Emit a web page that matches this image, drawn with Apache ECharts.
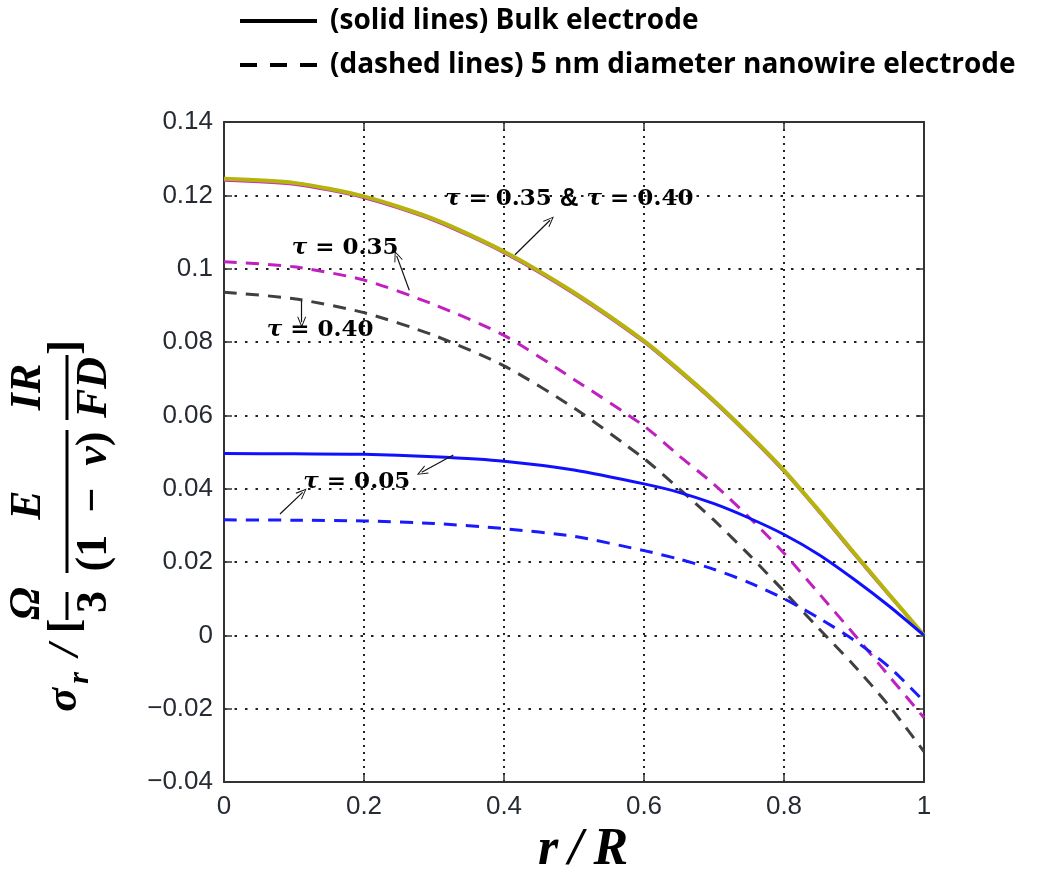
<!DOCTYPE html>
<html>
<head>
<meta charset="utf-8">
<script src="https://cdn.jsdelivr.net/npm/echarts@6/dist/echarts.min.js"></script>
<style>
  html, body { margin: 0; padding: 0; background: #fff; }
  #chart { width: 1054px; height: 886px; }
</style>
</head>
<body>
<div id="chart"></div>
<script>
// ---------------- data ----------------
const rVals = [0, 0.1, 0.2, 0.3, 0.4, 0.5, 0.6, 0.65, 0.7, 0.75, 0.8, 0.85, 0.9, 0.95, 1];
// solid lines: bulk electrode
const bulkTau35and40 = [0.1245, 0.1234, 0.1197, 0.1135, 0.1047, 0.0935, 0.0803, 0.0724, 0.0640, 0.0548, 0.0450, 0.0340, 0.0225, 0.0112, 0.0];
const bulkTau35Under = [0.1240, 0.1229, 0.1192, 0.1130, 0.1042, 0.0930, 0.0798, 0.0719, 0.0635, 0.0543, 0.0445, 0.0335, 0.0220, 0.0108, 0.0];
const bulkTau05 = [0.0496, 0.0495, 0.0494, 0.0487, 0.0475, 0.0451, 0.0413, 0.0390, 0.0359, 0.0320, 0.0275, 0.0220, 0.0153, 0.0080, 0.0];
// dashed lines: 5 nm nanowire electrode
const nanoTau35 = [0.1019, 0.1005, 0.0969, 0.0902, 0.0818, 0.0698, 0.0571, 0.0490, 0.0412, 0.0322, 0.0224, 0.0114, 0.0003, -0.0111, -0.0225];
const nanoTau40 = [0.0936, 0.0918, 0.0880, 0.0818, 0.0735, 0.0620, 0.0482, 0.0400, 0.0314, 0.0220, 0.0120, 0.0018, -0.0082, -0.0192, -0.0317];
const nanoTau05 = [0.0315, 0.0314, 0.0312, 0.0305, 0.0291, 0.0270, 0.0231, 0.0208, 0.0180, 0.0144, 0.0100, 0.0047, -0.0013, -0.0086, -0.0180];

const legendNames = ['(solid lines) Bulk electrode', '(dashed lines) 5 nm diameter nanowire electrode'];
const xTickLabels = ['0', '0.2', '0.4', '0.6', '0.8', '1'];
const yTickLabels = ['\u22120.04', '\u22120.02', '0', '0.02', '0.04', '0.06', '0.08', '0.1', '0.12', '0.14'];
const xAxisTitle = 'r\u2009/\u2009R';

const annotationLabels = [
  '{i|\u03C4}{u| = 0.35 }{a|&}{u| }{i|\u03C4}{u| = 0.40}',
  '{i|\u03C4}{u| = 0.35}',
  '{i|\u03C4}{u| = 0.40}',
  '{i|\u03C4}{u| = 0.05}'
];
const annotationAnchors = [[0.3157, 0.1191], [0.0967, 0.1057], [0.061, 0.0833], [0.1133, 0.0417]];
const arrowSegments = [
  [[0.4157, 0.1038], [0.4657, 0.1132]],
  [[0.2647, 0.0941], [0.2467, 0.1035]],
  [[0.111, 0.0913], [0.111, 0.0854]],
  [[0.3276, 0.0492], [0.2824, 0.0445]],
  [[0.0800, 0.0331], [0.1124, 0.0390]]
];

// ---------------- helpers ----------------
const pairs = ys => rVals.map((x, i) => [x, ys[i]]);
const X_MIN = 0, X_MAX = 1, X_INT = 0.2;
const Y_MIN = -0.04, Y_MAX = 0.14, Y_INT = 0.02;

const chart = echarts.init(document.getElementById('chart'), null, { renderer: 'canvas' });

const dashStyle = [13, 9];
function lineSeries(name, ys, color, width, type, z) {
  return {
    name: name, type: 'line', data: pairs(ys), symbol: 'none', smooth: 0.25,
    lineStyle: { color: color, width: width, type: type, cap: 'butt' },
    itemStyle: { color: color },
    z: z, silent: true, animation: false
  };
}

const chevron = 'path://M0,12 L6,0 L12,12 L10.6,12 L6,2.6 L1.4,12 Z';

const labelRich = {
  i: { fontFamily: 'DejaVu Serif', fontStyle: 'italic', fontWeight: 'bold', fontSize: 23, color: '#000' },
  u: { fontFamily: 'DejaVu Serif', fontWeight: 'bold', fontSize: 23, color: '#000' },
  a: { fontFamily: 'Liberation Sans', fontWeight: 'bold', fontSize: 26, color: '#000' }
};

const series = [
  lineSeries('bulkUnder', bulkTau35Under, '#c82bc8', 2, 'solid', 2),
  lineSeries('bulk035', bulkTau35and40, '#b4b40c', 4, 'solid', 3),
  lineSeries('nano035', nanoTau35, '#c020c0', 3, dashStyle, 3),
  lineSeries('nano040', nanoTau40, '#404040', 3, dashStyle, 3),
  lineSeries('nano005', nanoTau05, '#1a1aff', 3, dashStyle, 3),
  Object.assign(lineSeries('bulk005', bulkTau05, '#1010ff', 3, 'solid', 4), {
    markLine: {
      silent: true, animation: false,
      symbol: ['none', chevron], symbolSize: [9, 11],
      lineStyle: { color: '#111', width: 1.2, type: 'solid' },
      label: { show: false },
      data: arrowSegments.map(s => [{ coord: s[0] }, { coord: s[1] }])
    },
    markPoint: {
      silent: true, animation: false,
      symbol: 'circle', symbolSize: 0.1,
      itemStyle: { color: 'rgba(0,0,0,0)' },
      data: annotationAnchors.map((c, i) => ({
        coord: c,
        label: { show: true, position: 'right', distance: 0, formatter: annotationLabels[i], rich: labelRich }
      }))
    }
  }),
  // legend-only series
  { name: legendNames[0], type: 'line', data: [], symbol: 'none',
    lineStyle: { color: '#000', width: 4, type: 'solid' }, itemStyle: { color: 'rgba(0,0,0,0)' } },
  { name: legendNames[1], type: 'line', data: [], symbol: 'none',
    lineStyle: { color: '#000', width: 4, type: [17, 13] }, itemStyle: { color: 'rgba(0,0,0,0)' } }
];

// y-axis title (rotated math expression), local coordinates: x along text, y across
const F = '"Liberation Serif"';
const it = 'italic bold 44px ' + F;
const up = 'bold 44px ' + F;
function t(text, x, y, font) {
  return { type: 'text', style: { text: text, x: x, y: y, font: font, fill: '#000', align: 'center', verticalAlign: 'middle' } };
}
function bar(x1, x2) {
  return { type: 'rect', shape: { x: x1, y: -1.5, width: x2 - x1, height: 3 }, style: { fill: '#000' } };
}
const yTitle = {
  type: 'group', x: 67, y: 713, rotation: Math.PI / 2,
  children: [
    t('\u03C3', 13, -2.5, it),
    t('r', 35, 13.5, 'italic bold 30px ' + F),
    t('/', 63, 0, it),
    t('[', 87, 0, up),
    t('\u03A9', 109.5, -39, it),
    bar(93, 121),
    t('3', 111, 28, up),
    t('E', 208, -38, it),
    bar(140, 283),
    { type: 'text', style: {
        text: '{u|(1\u2002\u2212\u2002}{i|\u03BD}{u|)}', x: 211.5, y: 28, align: 'center', verticalAlign: 'middle',
        rich: { u: { font: up, fill: '#000' }, i: { font: it, fill: '#000' } } } },
    t('IR', 326, -38, it),
    bar(293, 358),
    t('FD', 325.5, 28, it),
    t(']', 365.5, 0, up)
  ]
};

const option = {
  backgroundColor: '#ffffff',
  animation: false,
  grid: { left: 224, right: 130, top: 122, bottom: 104, containLabel: false, outerBoundsMode: 'none' },
  legend: {
    data: legendNames, orient: 'vertical', left: 233, top: -3,
    itemWidth: 77, itemHeight: 14, itemGap: 6,
    itemStyle: { opacity: 0 },
    lineStyle: { width: 4 },
    textStyle: { fontFamily: 'Open Sans', fontWeight: 'bold', fontSize: 28, lineHeight: 38, color: '#000', padding: [0, 0, 0, 8] },
    selectedMode: false
  },
  xAxis: [
    {
      type: 'value', min: X_MIN, max: X_MAX, interval: X_INT, position: 'bottom',
      name: xAxisTitle, nameLocation: 'middle', nameGap: 42,
      nameTextStyle: { fontFamily: 'Liberation Serif', fontStyle: 'italic', fontWeight: 'bold', fontSize: 52, color: '#000', padding: [0, 0, 0, 18] },
      axisLine: { show: true, onZero: false, lineStyle: { color: '#333', width: 2 } },
      axisTick: { show: true, inside: true, length: 8, lineStyle: { color: '#333', width: 1.5 } },
      axisLabel: {
        margin: 12, fontFamily: 'Liberation Sans', fontSize: 26, color: '#262b33',
        formatter: v => xTickLabels[Math.round((v - X_MIN) / X_INT)]
      },
      splitLine: { show: true, lineStyle: { color: '#222', width: 2, type: [2, 5] } }
    },
    {
      type: 'value', min: X_MIN, max: X_MAX, interval: X_INT, position: 'top',
      axisLine: { show: true, onZero: false, lineStyle: { color: '#333', width: 2 } },
      axisTick: { show: true, inside: true, length: 8, lineStyle: { color: '#333', width: 1.5 } },
      axisLabel: { show: false }, splitLine: { show: false }
    }
  ],
  yAxis: [
    {
      type: 'value', min: Y_MIN, max: Y_MAX, interval: Y_INT, position: 'left',
      axisLine: { show: true, onZero: false, lineStyle: { color: '#333', width: 2 } },
      axisTick: { show: true, inside: true, length: 8, lineStyle: { color: '#333', width: 1.5 } },
      axisLabel: {
        margin: 11, fontFamily: 'Liberation Sans', fontSize: 26, color: '#262b33',
        formatter: v => yTickLabels[Math.round((v - Y_MIN) / Y_INT)]
      },
      splitLine: { show: true, lineStyle: { color: '#222', width: 2, type: [2.5, 8] } }
    },
    {
      type: 'value', min: Y_MIN, max: Y_MAX, interval: Y_INT, position: 'right',
      axisLine: { show: true, onZero: false, lineStyle: { color: '#333', width: 2 } },
      axisTick: { show: true, inside: true, length: 8, lineStyle: { color: '#333', width: 1.5 } },
      axisLabel: { show: false }, splitLine: { show: false }
    }
  ],
  graphic: [yTitle],
  series: series
};

chart.setOption(option);
</script>
</body>
</html>
